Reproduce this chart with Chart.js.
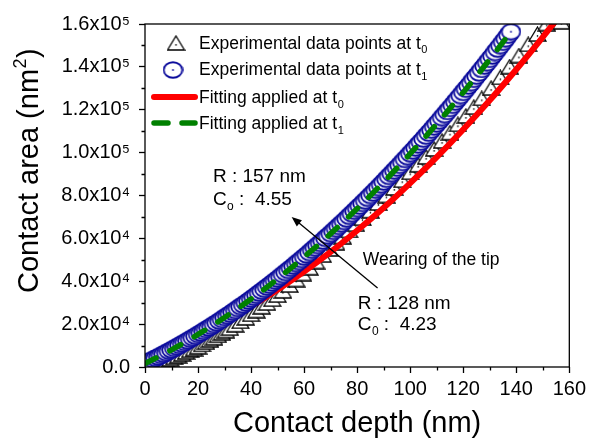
<!DOCTYPE html>
<html>
<head>
<meta charset="utf-8">
<script src="https://cdn.jsdelivr.net/npm/chart.js@4.4.1/dist/chart.umd.min.js"></script>
<style>
  html, body { margin: 0; padding: 0; background: #fff; }
  #wrap { width: 590px; height: 442px; }
</style>
</head>
<body>
<div id="wrap"><canvas id="chart" width="590" height="442"></canvas></div>
<script>
// experimental points at t0 (triangles)
const depthT0 = [5, 6.5, 8, 9.5, 11, 12.5, 14, 15.5, 17, 18.5, 20, 21.5, 23, 24.5, 26, 27.5, 29, 30.5, 32, 34,
  36, 38, 40, 42, 44, 46, 48, 50, 52, 54.5, 57, 59.5, 62, 64.5, 67, 69.5, 72, 74.5, 77, 79.5,
  82, 85, 88, 91, 94, 97, 100, 103, 106, 109, 112, 115, 118, 121, 124, 127, 130.5, 134, 137.5, 141,
  144.5, 148, 151.5, 157];
const areaT0 = [1500, 2300, 3000, 3800, 4500, 5300, 6100, 7000, 7800, 8600, 9500, 10500, 11600, 12600, 13700, 14800, 15900, 17000, 18100, 19700,
  21300, 22900, 24600, 26300, 28100, 29800, 31600, 33500, 35500, 38200, 40800, 43600, 46300, 49200, 52200, 55100, 58000, 60800, 63700, 66600,
  69400, 72900, 76500, 80000, 83500, 87100, 90800, 94300, 98000, 101700, 105400, 109300, 113200, 117100, 121200, 125300, 130100, 135100, 140100, 145300,
  150500, 155300, 160200, 161000];

// experimental points at t1 (circles), one per nm
const depthT1 = [1, 2, 3, 4, 5, 6, 7, 8, 9, 10, 11, 12, 13, 14, 15, 16, 17, 18, 19, 20,
  21, 22, 23, 24, 25, 26, 27, 28, 29, 30, 31, 32, 33, 34, 35, 36, 37, 38, 39, 40,
  41, 42, 43, 44, 45, 46, 47, 48, 49, 50, 51, 52, 53, 54, 55, 56, 57, 58, 59, 60,
  61, 62, 63, 64, 65, 66, 67, 68, 69, 70, 71, 72, 73, 74, 75, 76, 77, 78, 79, 80,
  81, 82, 83, 84, 85, 86, 87, 88, 89, 90, 91, 92, 93, 94, 95, 96, 97, 98, 99, 100,
  101, 102, 103, 104, 105, 106, 107, 108, 109, 110, 111, 112, 113, 114, 115, 116, 117, 118, 119, 120,
  121, 122, 123, 124, 125, 126, 127, 128, 129, 130, 131, 132, 133, 134, 135, 136, 137, 138];
const areaT1 = [2200, 2900, 3500, 4100, 4700, 5400, 6000, 6700, 7400, 8000,
  8700, 9400, 10100, 10800, 11500, 12200, 13000, 13700, 14400, 15200,
  15900, 16700, 17500, 18200, 19000, 19800, 20600, 21400, 22200, 23100,
  23900, 24700, 25600, 26400, 27300, 28200, 29000, 29900, 30800, 31700,
  32600, 33500, 34500, 35400, 36300, 37300, 38200, 39200, 40200, 41100,
  42100, 43100, 44100, 45100, 46100, 47100, 48200, 49200, 50200, 51300,
  52300, 53400, 54500, 55600, 56700, 57700, 58800, 60000, 61100, 62200,
  63300, 64500, 65600, 66800, 67900, 69100, 70300, 71500, 72700, 73900,
  75100, 76300, 77500, 78700, 80000, 81200, 82500, 83700, 85000, 86300,
  87600, 88900, 90200, 91500, 92800, 94100, 95400, 96800, 98100, 99500,
  100800, 102200, 103600, 104900, 106300, 107700, 109100, 110500, 112000, 113400,
  114800, 116300, 117700, 119200, 120600, 122100, 123600, 125100, 126600, 128100,
  129600, 131100, 132600, 134200, 135700, 137200, 138800, 140400, 141900, 143500,
  145100, 146700, 148300, 149900, 151500, 153100, 154800, 156400];

// fitted curves
const fitDepthT0 = [31, 40, 50, 60, 70, 80, 90, 100, 110, 120, 130, 140, 150, 155];
const fitAreaT0 = [22000, 28400, 36100, 44500, 53700, 63700, 74300, 85800, 97900, 110800, 124400, 138800, 153900, 161700];
const fitDepthT1 = [0, 10, 20, 30, 40, 50, 60, 70, 80, 90, 100, 110, 120, 130, 139];
const fitAreaT1 = [1600, 8000, 15200, 23100, 31700, 41100, 51300, 62200, 73900, 86300, 99500, 113400, 128100, 143500, 158000];

const yTickLabels = ['0.0', '2.0x10\u2074', '4.0x10\u2074', '6.0x10\u2074', '8.0x10\u2074',
  '1.0x10\u2075', '1.2x10\u2075', '1.4x10\u2075', '1.6x10\u2075'];

const FONT = '"Liberation Sans", Arial, sans-serif';
const NAVY = '#0c0c9c';

function makeMarker(w, h, draw) {
  const c = document.createElement('canvas');
  c.width = w; c.height = h;
  draw(c.getContext('2d'), w, h);
  return c;
}

const circleMark = makeMarker(21, 18, (g, w, h) => {
  g.beginPath();
  g.ellipse(w / 2, h / 2, w / 2 - 1.2, h / 2 - 1.2, 0, 0, Math.PI * 2);
  g.fillStyle = '#fff'; g.fill();
  g.strokeStyle = NAVY; g.lineWidth = 1.9; g.stroke();
  g.beginPath(); g.arc(w / 2, h / 2, 0.9, 0, Math.PI * 2);
  g.fillStyle = NAVY; g.fill();
});

const triMark = makeMarker(19, 16, (g, w, h) => {
  g.beginPath();
  g.moveTo(w / 2, 1); g.lineTo(w - 1, h - 1); g.lineTo(1, h - 1); g.closePath();
  g.fillStyle = '#fff'; g.fill();
  g.strokeStyle = '#000'; g.lineWidth = 1.3; g.lineJoin = 'miter'; g.stroke();
  g.beginPath(); g.arc(w / 2, h * 0.62, 0.8, 0, Math.PI * 2);
  g.fillStyle = '#000'; g.fill();
});

const pts = (xs, ys) => xs.map((x, i) => ({ x, y: ys[i] }));

// text with a subscript after it, returns x after the subscript
function subText(ctx, x, y, main, sub, size) {
  ctx.font = `${size}px ${FONT}`;
  ctx.fillText(main, x, y);
  const w = ctx.measureText(main).width;
  ctx.font = `${Math.round(size * 0.62)}px ${FONT}`;
  ctx.fillText(sub, x + w + 0.5, y + size * 0.28);
  return x + w + 0.5 + ctx.measureText(sub).width;
}

const decor = {
  id: 'decor',
  afterDraw(chart) {
    const { ctx, chartArea: a, scales: { x, y } } = chart;
    ctx.save();
    ctx.strokeStyle = '#000';
    ctx.lineWidth = 1.3;
    ctx.strokeRect(a.left, a.top, a.right - a.left, a.bottom - a.top);

    // minor ticks
    ctx.beginPath();
    for (let v = 10; v < 160; v += 20) {
      const px = Math.round(x.getPixelForValue(v)) + 0.5;
      ctx.moveTo(px, a.bottom); ctx.lineTo(px, a.bottom + 3.5);
    }
    for (let v = 10000; v < 160000; v += 20000) {
      const py = Math.round(y.getPixelForValue(v)) + 0.5;
      ctx.moveTo(a.left, py); ctx.lineTo(a.left - 3.5, py);
    }
    ctx.stroke();

    // y title with superscript
    ctx.save();
    ctx.translate(38, 293);
    ctx.rotate(-Math.PI / 2);
    ctx.fillStyle = '#000';
    ctx.textAlign = 'left';
    ctx.textBaseline = 'alphabetic';
    ctx.font = `29px ${FONT}`;
    const t1 = 'Contact area (nm';
    ctx.fillText(t1, 0, 0);
    let cx = ctx.measureText(t1).width;
    ctx.font = `18px ${FONT}`;
    ctx.fillText('2', cx + 0.5, -12);
    cx += ctx.measureText('2').width + 1;
    ctx.font = `29px ${FONT}`;
    ctx.fillText(')', cx, 0);
    ctx.restore();

    // legend
    const lx = a.left, ly = a.top;
    ctx.fillStyle = '#000';
    ctx.textAlign = 'left';
    ctx.textBaseline = 'alphabetic';
    ctx.drawImage(triMark, lx + 31 - triMark.width / 2, ly + 19 - triMark.height / 2);
    subText(ctx, lx + 54, ly + 24.5, 'Experimental data points at t', '0', 17.5);
    ctx.drawImage(circleMark, lx + 28 - circleMark.width / 2, ly + 46 - circleMark.height / 2);
    subText(ctx, lx + 54, ly + 51, 'Experimental data points at t', '1', 17.5);

    ctx.lineCap = 'round';
    ctx.strokeStyle = '#ff0000';
    ctx.lineWidth = 6;
    ctx.beginPath(); ctx.moveTo(lx + 9, ly + 73); ctx.lineTo(lx + 50, ly + 73); ctx.stroke();
    subText(ctx, lx + 54, ly + 79, 'Fitting applied at t', '0', 17.5);

    ctx.strokeStyle = '#008000';
    ctx.lineWidth = 5.5;
    ctx.beginPath();
    ctx.moveTo(lx + 9, ly + 99); ctx.lineTo(lx + 23, ly + 99);
    ctx.moveTo(lx + 37, ly + 99); ctx.lineTo(lx + 50, ly + 99);
    ctx.stroke();
    subText(ctx, lx + 54, ly + 105, 'Fitting applied at t', '1', 17.5);

    // annotations (placed in data units)
    const X = v => x.getPixelForValue(v);
    const Y = v => y.getPixelForValue(v);
    ctx.font = `19px ${FONT}`;
    ctx.fillText('R : 157 nm', X(25.6), Y(86300));
    let e = subText(ctx, X(25.6), Y(75600), 'C', 'o', 19);
    ctx.font = `19px ${FONT}`;
    ctx.fillText(' :  4.55', e, Y(75600));

    ctx.fillText('R : 128 nm', X(80.2), Y(27000));
    e = subText(ctx, X(80.2), Y(17300), 'C', '0', 19);
    ctx.font = `19px ${FONT}`;
    ctx.fillText(' :  4.23', e, Y(17300));

    ctx.font = `17.5px ${FONT}`;
    ctx.fillText('Wearing of the tip', X(82.1), Y(47600));

    // arrow
    const x0 = X(87.7), y0 = Y(36850), x1 = X(55.3), y1 = Y(70000);
    const ang = Math.atan2(y1 - y0, x1 - x0);
    ctx.strokeStyle = '#000';
    ctx.lineWidth = 1.3;
    ctx.lineCap = 'butt';
    ctx.beginPath();
    ctx.moveTo(x0, y0);
    ctx.lineTo(x1 - 8 * Math.cos(ang), y1 - 8 * Math.sin(ang));
    ctx.stroke();
    ctx.beginPath();
    ctx.moveTo(x1, y1);
    ctx.lineTo(x1 - 10 * Math.cos(ang) + 4 * Math.sin(ang), y1 - 10 * Math.sin(ang) - 4 * Math.cos(ang));
    ctx.lineTo(x1 - 10 * Math.cos(ang) - 4 * Math.sin(ang), y1 - 10 * Math.sin(ang) + 4 * Math.cos(ang));
    ctx.closePath();
    ctx.fillStyle = '#000';
    ctx.fill();

    ctx.restore();
  }
};

Chart.defaults.font.family = FONT;
Chart.defaults.color = '#000';

const ctx = document.getElementById('chart').getContext('2d');
new Chart(ctx, {
  type: 'scatter',
  data: {
    datasets: [
      {
        label: 'Fitting applied at t1',
        data: pts(fitDepthT1, fitAreaT1),
        showLine: true,
        borderColor: '#008000',
        borderWidth: 5.5,
        borderDash: [12.5, 15.5],
        borderCapStyle: 'round',
        cubicInterpolationMode: 'monotone',
        pointRadius: 0,
        clip: 0,
        order: 0
      },
      {
        label: 'Experimental data points at t1',
        data: pts(depthT1, areaT1),
        pointStyle: circleMark,
        pointRadius: 8,
        clip: 0,
        order: 1
      },
      {
        label: 'Fitting applied at t0',
        data: pts(fitDepthT0, fitAreaT0),
        showLine: true,
        borderColor: '#ff0000',
        borderWidth: 6,
        cubicInterpolationMode: 'monotone',
        pointRadius: 0,
        clip: 0,
        order: 2
      },
      {
        label: 'Experimental data points at t0',
        data: pts(depthT0, areaT0),
        pointStyle: triMark,
        pointRadius: 8,
        clip: 0,
        order: 3
      }
    ]
  },
  options: {
    responsive: false,
    animation: false,
    layout: { padding: { left: 0, right: 20, top: 24, bottom: 0 } },
    plugins: {
      legend: { display: false },
      tooltip: { enabled: false }
    },
    scales: {
      x: {
        type: 'linear',
        min: 0,
        max: 160,
        afterFit: (s) => { s.height = 75; },
        ticks: {
          stepSize: 20,
          padding: 4,
          color: '#000',
          font: { size: 20 }
        },
        grid: {
          drawOnChartArea: false,
          drawTicks: true,
          tickLength: 6,
          tickColor: '#000',
          tickWidth: 1.3
        },
        border: { display: false },
        title: {
          display: true,
          text: 'Contact depth (nm)',
          color: '#000',
          font: { size: 29 },
          padding: { top: 0, bottom: 1 }
        }
      },
      y: {
        type: 'linear',
        min: 0,
        max: 160000,
        afterFit: (s) => { s.width = 145; },
        ticks: {
          stepSize: 20000,
          padding: 9,
          color: '#000',
          font: { size: 20 },
          callback: (v, i) => yTickLabels[i]
        },
        grid: {
          drawOnChartArea: false,
          drawTicks: true,
          tickLength: 6,
          tickColor: '#000',
          tickWidth: 1.3
        },
        border: { display: false }
      }
    }
  },
  plugins: [decor]
});
</script>
</body>
</html>
